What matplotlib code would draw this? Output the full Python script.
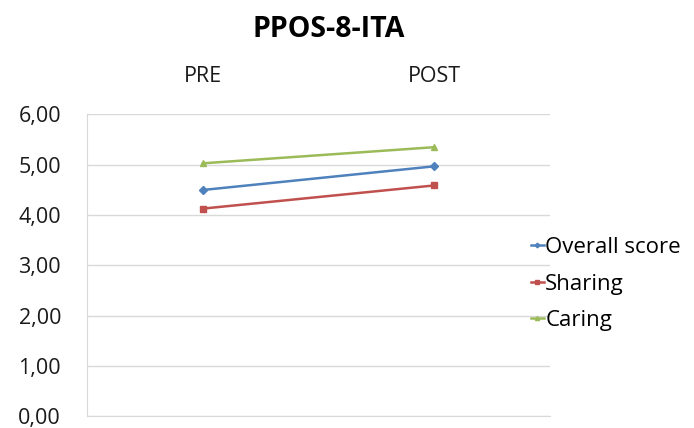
import matplotlib
matplotlib.use('Agg')
import matplotlib.pyplot as plt
from matplotlib.ticker import FuncFormatter

matplotlib.rcParams['font.family'] = ['Open Sans', 'DejaVu Sans']

categories = ['PRE', 'POST']
overall_score = [4.50, 4.97]
sharing = [4.13, 4.59]
caring = [5.03, 5.35]
y_ticks = [0, 1, 2, 3, 4, 5, 6]

fig = plt.figure(figsize=(6.94, 4.28), dpi=100)
ax = fig.add_axes([0.126, 0.027, 0.666, 0.7055])

x = range(len(categories))
ax.plot(x, overall_score, color='#4F81BD', marker='D', markersize=4,
        linewidth=1.8, label='Overall score')
ax.plot(x, sharing, color='#C0504D', marker='s', markersize=5,
        linewidth=1.8, label='Sharing')
ax.plot(x, caring, color='#9BBB59', marker='^', markersize=5,
        linewidth=1.8, label='Caring')

ax.set_xlim(-0.5, 1.5)
ax.set_ylim(0, 6)
ax.set_yticks(y_ticks)
ax.yaxis.set_major_formatter(
    FuncFormatter(lambda v, _: f'{v:.2f}'.replace('.', ',')))
ax.set_xticks(list(x))
ax.set_xticklabels(categories)
ax.xaxis.tick_top()
ax.tick_params(axis='both', length=0, labelsize=15.5, colors='#1a1a1a')
ax.tick_params(axis='x', pad=20)
ax.tick_params(axis='y', pad=19)

ax.grid(axis='y', color='#d9d9d9', linewidth=1)
ax.set_axisbelow(True)
for side in ['top', 'right']:
    ax.spines[side].set_visible(False)
for side in ['left', 'bottom']:
    ax.spines[side].set_color('#d9d9d9')

fig.text(0.473, 0.932, 'PPOS-8-ITA', ha='center', va='center',
         fontsize=20.5, fontweight='bold')

fig.legend(loc='center left', bbox_to_anchor=(0.736, 0.336),
           frameon=False, fontsize=16, handlelength=0.6,
           handletextpad=0.05, labelspacing=0.7, markerscale=0.6)

fig.savefig('out.png', dpi=100)
